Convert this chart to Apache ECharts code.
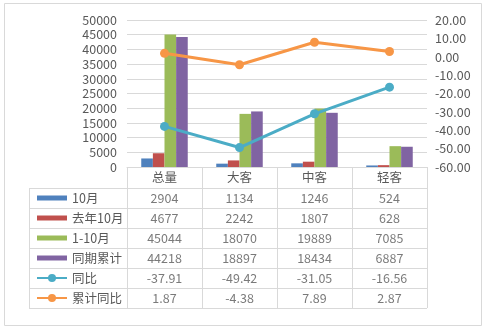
<!DOCTYPE html>
<html>
<head>
<meta charset="utf-8">
<script src="https://cdn.jsdelivr.net/npm/echarts@6/dist/echarts.min.js"></script>
<style>html,body{margin:0;padding:0;background:#fff}#c{width:488px;height:329px}</style>
</head>
<body>
<div id="c"></div>
<script>
const categories = ['总量', '大客', '中客', '轻客'];
const seriesNames = ['10月', '去年10月', '1-10月', '同期累计', '同比', '累计同比'];
const octCur = [2904, 1134, 1246, 524];
const octPrev = [4677, 2242, 1807, 628];
const ytdCur = [45044, 18070, 19889, 7085];
const ytdPrev = [44218, 18897, 18434, 6887];
const yoy = [-37.91, -49.42, -31.05, -16.56];
const ytdYoy = [1.87, -4.38, 7.89, 2.87];
const leftTicks = {min: 0, max: 50000, interval: 5000};
const rightTicks = {min: -60, max: 20, interval: 10};

const barColors = ['#4F81BD', '#C0504D', '#9BBB59', '#8064A2'];
const lineColors = ['#4BACC6', '#F79646'];
const grey = '#D9D9D9';
const txt = '#595959';
const font = 'Noto Sans CJK SC';

const allRows = [octCur, octPrev, ytdCur, ytdPrev, yoy, ytdYoy];
const tableData = [];
allRows.forEach((row, r) => {
  row.forEach((v, c) => tableData.push([c, r, v]));
});

const chart = echarts.init(document.getElementById('c'));
const barSeries = [octCur, octPrev, ytdCur, ytdPrev].map((d, i) => ({
  name: seriesNames[i], type: 'bar', data: d, xAxisIndex: 0, yAxisIndex: 0,
  barGap: '0%', barCategoryGap: '38%', itemStyle: {color: barColors[i]}, silent: true
}));
const lineSeries = [yoy, ytdYoy].map((d, i) => ({
  name: seriesNames[4 + i], type: 'line', data: d, xAxisIndex: 0, yAxisIndex: 1,
  symbol: 'circle', symbolSize: 9, z: 5,
  lineStyle: {width: 3, color: lineColors[i]}, itemStyle: {color: lineColors[i]}, silent: true
}));

chart.setOption({
  animation: false,
  textStyle: {fontFamily: font},
  graphic: [{
    type: 'rect', shape: {x: 4.5, y: 3.5, width: 477, height: 322},
    style: {fill: 'none', stroke: grey, lineWidth: 1}, silent: true
  }],
  legend: {
    orient: 'vertical', left: 36, top: 188, padding: 0, itemGap: 0,
    itemWidth: 30, itemHeight: 10, selectedMode: false, symbolKeepAspect: true,
    textStyle: {fontSize: 12.5, lineHeight: 20, color: txt, fontFamily: font},
    data: seriesNames.map((n, i) => i < 4 ? {name: n, icon: 'path://M0,0h30v5H0z'} : {name: n})
  },
  grid: [
    {left: 127, right: 61, top: 20, bottom: 162},
    {left: 29, width: 98, top: 188, bottom: 21},
    {left: 127, right: 61, top: 188, bottom: 21}
  ],
  xAxis: [
    {gridIndex: 0, type: 'category', data: categories,
      axisLine: {lineStyle: {color: grey}},
      axisTick: {show: true, length: 21, lineStyle: {color: grey}},
      axisLabel: {fontSize: 12.5, color: txt, margin: 4, fontFamily: font}},
    {gridIndex: 1, type: 'category', data: [''],
      axisLine: {show: false}, axisTick: {show: false}, axisLabel: {show: false},
      splitLine: {show: true, lineStyle: {color: grey}}},
    {gridIndex: 2, type: 'category', data: categories,
      axisLine: {show: false}, axisTick: {show: false}, axisLabel: {show: false},
      splitLine: {show: true, lineStyle: {color: grey}}}
  ],
  yAxis: [
    {gridIndex: 0, type: 'value', min: leftTicks.min, max: leftTicks.max, interval: leftTicks.interval,
      axisLine: {show: false}, axisTick: {show: false},
      axisLabel: {fontSize: 12.5, color: txt, margin: 10, fontFamily: font, formatter: v => String(v)},
      splitLine: {lineStyle: {color: grey}}},
    {gridIndex: 0, type: 'value', position: 'right', min: rightTicks.min, max: rightTicks.max, interval: rightTicks.interval,
      axisLine: {show: false}, axisTick: {show: false}, splitLine: {show: false},
      axisLabel: {fontSize: 12.5, color: txt, margin: 8, fontFamily: font, formatter: v => v.toFixed(2)}},
    {gridIndex: 1, type: 'category', data: seriesNames, inverse: true,
      axisLine: {show: false}, axisTick: {show: false}, axisLabel: {show: false},
      splitLine: {show: true, lineStyle: {color: grey}}},
    {gridIndex: 2, type: 'category', data: seriesNames, inverse: true,
      axisLine: {show: false}, axisTick: {show: false}, axisLabel: {show: false},
      splitLine: {show: true, lineStyle: {color: grey}}}
  ],
  series: barSeries.concat(lineSeries, [{
    name: 'table', type: 'scatter', xAxisIndex: 2, yAxisIndex: 3, data: tableData,
    symbolSize: 1, itemStyle: {color: 'rgba(0,0,0,0)'}, silent: true,
    label: {show: true, position: 'inside', color: txt, fontSize: 12.5, fontFamily: font,
      formatter: p => p.value[1] >= 4 ? p.value[2].toFixed(2) : String(p.value[2])}
  }])
});
</script>
</body>
</html>
